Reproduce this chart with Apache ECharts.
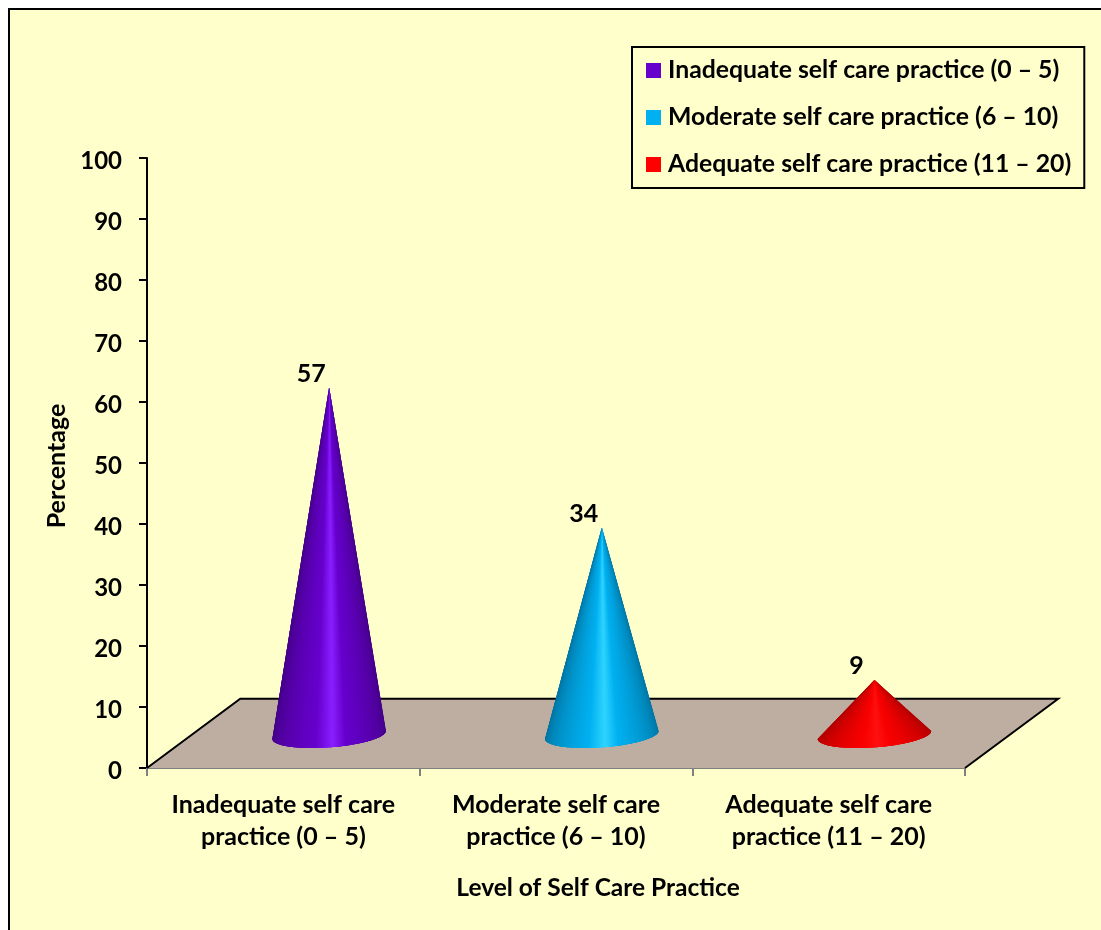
<!DOCTYPE html>
<html>
<head>
<meta charset="utf-8">
<style>
  html, body { margin: 0; padding: 0; background: #fff; }
  #chart { width: 1101px; height: 930px; }
</style>
<script src="https://cdn.jsdelivr.net/npm/echarts@6/dist/echarts.min.js"></script>
</head>
<body>
<div id="chart"></div>
<script>
// Self care practice levels and their share of respondents
const categories = [
  'Inadequate self care\npractice (0 – 5)',
  'Moderate self care\npractice (6 – 10)',
  'Adequate self care\npractice (11 – 20)'
];
const seriesNames = [
  'Inadequate self care practice (0 – 5)',
  'Moderate self care practice (6 – 10)',
  'Adequate self care practice (11 – 20)'
];
const percentages = [57, 34, 9];

// Shading ramps for each cone: edge, body, highlight
const ramps = [
  ['#430084', '#6600cc', '#8a1fff'],
  ['#00729f', '#00b0f0', '#2fd4ff'],
  ['#b00000', '#f80000', '#ff1010']
];
const legendColors = ['#6600cc', '#00b0f0', '#ff0000'];
const FONT = 'Lato, "Open Sans", sans-serif';

// Oblique projection, expressed as fractions of one category band
const DEPTH_X = 0.342, DEPTH_Y = 0.254;
const CONE_SHIFT_X = 0.168, CONE_SHIFT_Y = 0.1215;
const CONE_RADIUS = 0.198, BASE_SKEW_X = 0.064, BASE_SKEW_Y = 0.048;

function hexToRgb(h) {
  return [1, 3, 5].map(i => parseInt(h.substr(i, 2), 16));
}
function mix(a, b, k) {
  const A = hexToRgb(a), B = hexToRgb(b);
  return 'rgb(' + A.map((v, i) => Math.round(v + (B[i] - v) * k)).join(',') + ')';
}
// Colour across the visible surface: f = 0 at the left silhouette, 1 at the right
function shade(ramp, f) {
  const peak = 0.53;
  if (f < peak) {
    const k = f / peak;
    return k < 0.72 ? mix(ramp[0], ramp[1], Math.pow(k / 0.72, 0.55)) : mix(ramp[1], ramp[2], (k - 0.72) / 0.28);
  }
  const k = (1 - f) / (1 - peak);
  return k < 0.75 ? mix(ramp[0], ramp[1], Math.pow(k / 0.75, 0.55)) : mix(ramp[1], ramp[2], (k - 0.75) / 0.25);
}

function renderFloor(params, api) {
  const band = api.size([1, 0])[0];
  const left = api.coord([0, 0]);
  const right = api.coord([categories.length - 1, 0]);
  const x0 = left[0] - band / 2, x1 = right[0] + band / 2, y = left[1];
  const dx = band * DEPTH_X, dy = band * DEPTH_Y;
  return {
    type: 'group',
    children: [
      {
        type: 'polygon',
        shape: { points: [[x0, y], [x1, y], [x1 + dx, y - dy], [x0 + dx, y - dy]] },
        style: { fill: '#bdaea1', stroke: null }
      },
      {
        type: 'polyline',
        shape: { points: [[x0, y], [x0 + dx, y - dy], [x1 + dx, y - dy], [x1, y]] },
        style: { fill: null, stroke: '#000', lineWidth: 2 }
      }
    ]
  };
}

function coneRenderer(ramp) {
  return function (params, api) {
    const band = api.size([1, 0])[0];
    const cat = api.value(0), val = api.value(1);
    const base = api.coord([cat, 0]);
    const top = api.coord([cat, val]);
    const ox = band * CONE_SHIFT_X, oy = band * CONE_SHIFT_Y;
    const cx = base[0] + ox, cy = base[1] - oy;
    const apex = [top[0] + ox, top[1] - oy];
    const r = band * CONE_RADIUS, sx = band * BASE_SKEW_X, sy = band * BASE_SKEW_Y;
    const point = t => [cx + r * Math.cos(t) + sx * Math.sin(t), cy - sy * Math.sin(t)];
    const tRight = Math.atan2(sx, r);
    const halfSpan = Math.sqrt(r * r + sx * sx);
    const N = 90, OVERLAP = 4;
    const children = [];
    // The visible half of the base is fanned out into slices meeting at the apex;
    // each slice runs under the next few so that no seams show between them
    for (let i = 0; i < N; i++) {
      const pts = [apex];
      for (let j = i; j <= Math.min(N, i + OVERLAP); j++) {
        pts.push(point(tRight - Math.PI * j / N));
      }
      const p = point(tRight - Math.PI * i / N), q = point(tRight - Math.PI * (i + 1) / N);
      const f = ((p[0] + q[0]) / 2 - (cx - halfSpan)) / (2 * halfSpan);
      children.push({
        type: 'polygon',
        shape: { points: pts },
        style: { fill: shade(ramp, f), stroke: null }
      });
    }
    children.push({
      type: 'text',
      style: {
        text: String(val),
        x: apex[0] - band * 0.066,
        y: apex[1] - band * 0.05,
        align: 'center',
        verticalAlign: 'middle',
        fill: '#000',
        font: 'bold 25px ' + FONT
      }
    });
    return { type: 'group', children };
  };
}

const coneSeries = seriesNames.map((name, i) => ({
  type: 'custom',
  name,
  z: 3,
  clip: false,
  coordinateSystem: 'cartesian2d',
  renderItem: coneRenderer(ramps[i]),
  encode: { x: 0, y: 1 },
  itemStyle: { color: legendColors[i] },
  data: [[i, percentages[i]]]
}));

const chart = echarts.init(document.getElementById('chart'), null, { renderer: 'canvas' });
chart.setOption({
  animation: false,
  backgroundColor: '#fff',
  textStyle: { fontFamily: FONT },
  graphic: [{
    type: 'rect',
    z: -10,
    shape: { x: 9, y: 9, width: 1300, height: 1100 },
    style: { fill: '#ffffcc', stroke: '#000', lineWidth: 2 }
  }],
  grid: { left: 147, top: 158, width: 818, height: 610 },
  legend: {
    orient: 'vertical',
    left: 632,
    top: 47,
    padding: [11, 13, 11, 14],
    itemWidth: 15,
    itemHeight: 15,
    itemGap: 22,
    borderColor: '#000',
    borderWidth: 2,
    selectedMode: false,
    icon: 'rect',
    data: seriesNames,
    textStyle: { fontFamily: FONT, fontWeight: 'bold', fontSize: 24.8, color: '#000', lineHeight: 22, padding: [2, 0, 0, 2] }
  },
  xAxis: {
    type: 'category',
    data: categories,
    name: 'Level of Self Care Practice',
    nameLocation: 'middle',
    nameGap: 108,
    nameTextStyle: { fontFamily: FONT, fontWeight: 'bold', fontSize: 24.5, color: '#000', padding: [0, 0, 0, 84] },
    axisLine: { lineStyle: { color: '#808080', width: 2 } },
    axisTick: { show: true, length: 8, lineStyle: { color: '#808080', width: 2 } },
    axisLabel: { interval: 0, margin: 21, fontFamily: FONT, fontWeight: 'bold', fontSize: 25, lineHeight: 32, color: '#000' }
  },
  yAxis: {
    type: 'value',
    min: 0,
    max: 100,
    interval: 10,
    name: 'Percentage',
    nameLocation: 'middle',
    nameGap: 74,
    nameTextStyle: { fontFamily: FONT, fontWeight: 'bold', fontSize: 25, color: '#000', padding: [0, 6, 0, 0] },
    splitLine: { show: false },
    axisLine: { show: true, lineStyle: { color: '#000', width: 2 } },
    axisTick: { show: true, length: 8, lineStyle: { color: '#000', width: 2 } },
    axisLabel: { margin: 25, fontFamily: FONT, fontWeight: 'bold', fontSize: 24, color: '#000', verticalAlign: 'top', lineHeight: 6 }
  },
  series: [{
    type: 'custom',
    name: 'Floor',
    z: 1,
    clip: false,
    coordinateSystem: 'cartesian2d',
    renderItem: renderFloor,
    encode: { x: 0, y: 1 },
    data: [[0, 0]]
  }].concat(coneSeries)
});
</script>
</body>
</html>
